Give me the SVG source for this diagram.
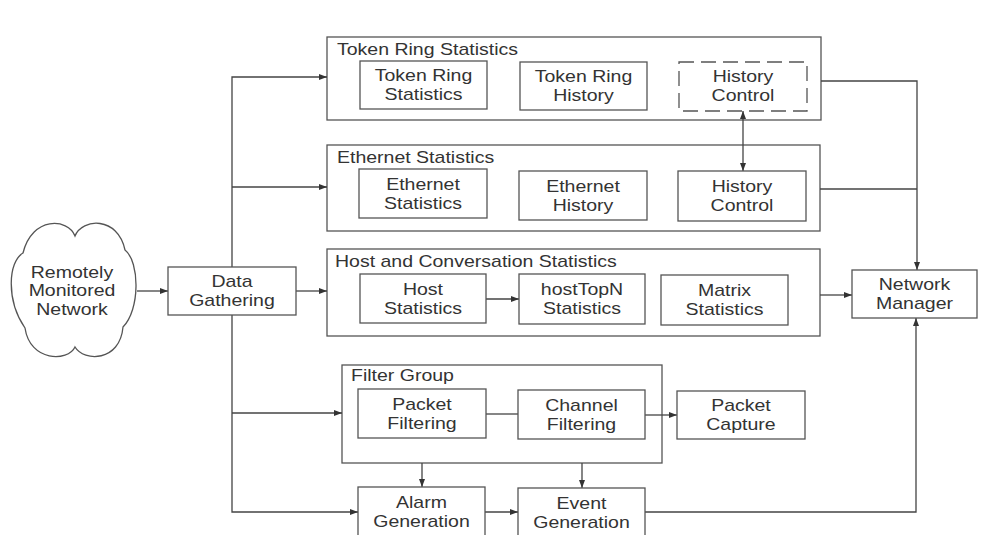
<svg xmlns="http://www.w3.org/2000/svg" width="983" height="535" viewBox="0 0 983 535">
<style>
.box{fill:#fff;stroke:#555;stroke-width:1.3}
.dash{stroke-dasharray:15 7}
.conn{fill:none;stroke:#444;stroke-width:1.3}
text{font-family:"Liberation Sans",Arial,Helvetica,sans-serif;font-size:16px;fill:#333}
.c{text-anchor:middle;transform-box:fill-box;transform-origin:center;transform:scaleX(1.22)}
.l{transform-box:fill-box;transform-origin:left center;transform:scaleX(1.22)}
</style>
<defs>
<marker id="ah" viewBox="0 0 8 6" refX="8" refY="3" markerWidth="8" markerHeight="6" markerUnits="userSpaceOnUse" orient="auto-start-reverse">
<path d="M0,0 L8,3 L0,6 z" fill="#333"/>
</marker>
</defs>
<rect width="983" height="535" fill="#fff"/>

<g id="g-token">
<rect class="box" x="327" y="37" width="494" height="83"/>
<text class="l" x="337" y="55">Token Ring Statistics</text>
</g>
<g id="g-ether">
<rect class="box" x="327" y="145" width="493" height="86"/>
<text class="l" x="337" y="163">Ethernet Statistics</text>
</g>
<g id="g-host">
<rect class="box" x="327" y="249" width="493" height="87"/>
<text class="l" x="335" y="267">Host and Conversation Statistics</text>
</g>
<g id="g-filter">
<rect class="box" x="342" y="365" width="320" height="98"/>
<text class="l" x="351" y="381">Filter Group</text>
</g>

<g id="connectors">
<path class="conn" d="M137,291 H168" marker-end="url(#ah)"/>
<path class="conn" d="M296,291 H327" marker-end="url(#ah)"/>
<path class="conn" d="M232,267 V77 H327" marker-end="url(#ah)"/>
<path class="conn" d="M232,187 H327" marker-end="url(#ah)"/>
<path class="conn" d="M232,315 V512 H358" marker-end="url(#ah)"/>
<path class="conn" d="M232,413 H342" marker-end="url(#ah)"/>
<path class="conn" d="M821,81 H917 V270" marker-end="url(#ah)"/>
<path class="conn" d="M820,189 H917"/>
<path class="conn" d="M820,295 H852" marker-end="url(#ah)"/>
<path class="conn" d="M645,512 H916 V318" marker-end="url(#ah)"/>
<path class="conn" d="M743,111 V171" marker-start="url(#ah)" marker-end="url(#ah)"/>
<path class="conn" d="M486,299 H519" marker-end="url(#ah)"/>
<path class="conn" d="M486,414 H518"/>
<path class="conn" d="M645,415 H677" marker-end="url(#ah)"/>
<path class="conn" d="M422,463 V487" marker-end="url(#ah)"/>
<path class="conn" d="M582,463 V488" marker-end="url(#ah)"/>
<path class="conn" d="M485,512 H518" marker-end="url(#ah)"/>
</g>

<g id="n-cloud">
<path class="box" d="M75,236 C68,218 32,216 23,253 C8,262 6,300 25,328 C30,362 68,362 75,347 C84,362 120,362 123,327 C140,310 140,262 125,250 C118,216 82,218 75,236 Z"/>
<text class="c" x="72" y="278">Remotely</text>
<text class="c" x="72" y="296.5">Monitored</text>
<text class="c" x="72" y="315">Network</text>
</g>
<g id="n-data">
<rect class="box" x="168" y="267" width="128" height="48"/>
<text class="c" x="232" y="287.2">Data</text>
<text class="c" x="232" y="306.2">Gathering</text>
</g>
<g id="n-trs">
<rect class="box" x="360" y="61" width="127" height="48"/>
<text class="c" x="423.5" y="81">Token Ring</text>
<text class="c" x="423.5" y="100">Statistics</text>
</g>
<g id="n-trh">
<rect class="box" x="520" y="62" width="127" height="48"/>
<text class="c" x="583.5" y="82">Token Ring</text>
<text class="c" x="583.5" y="101">History</text>
</g>
<g id="n-hc1">
<rect class="box dash" x="679" y="62" width="128" height="49"/>
<text class="c" x="743" y="82.5">History</text>
<text class="c" x="743" y="101.5">Control</text>
</g>
<g id="n-es">
<rect class="box" x="359" y="169" width="128" height="49"/>
<text class="c" x="423" y="189.7">Ethernet</text>
<text class="c" x="423" y="208.7">Statistics</text>
</g>
<g id="n-eh">
<rect class="box" x="519" y="171" width="128" height="49"/>
<text class="c" x="583" y="191.7">Ethernet</text>
<text class="c" x="583" y="210.7">History</text>
</g>
<g id="n-hc2">
<rect class="box" x="678" y="171" width="128" height="50"/>
<text class="c" x="742" y="192.2">History</text>
<text class="c" x="742" y="211.2">Control</text>
</g>
<g id="n-host">
<rect class="box" x="360" y="274" width="126" height="49"/>
<text class="c" x="423" y="294.7">Host</text>
<text class="c" x="423" y="313.7">Statistics</text>
</g>
<g id="n-topn">
<rect class="box" x="519" y="274" width="126" height="50"/>
<text class="c" x="582" y="295.2">hostTopN</text>
<text class="c" x="582" y="314.2">Statistics</text>
</g>
<g id="n-matrix">
<rect class="box" x="661" y="275" width="127" height="50"/>
<text class="c" x="724.5" y="296.2">Matrix</text>
<text class="c" x="724.5" y="315.2">Statistics</text>
</g>
<g id="n-pf">
<rect class="box" x="358" y="389" width="128" height="49"/>
<text class="c" x="422" y="409.7">Packet</text>
<text class="c" x="422" y="428.7">Filtering</text>
</g>
<g id="n-cf">
<rect class="box" x="518" y="390" width="127" height="49"/>
<text class="c" x="581.5" y="410.7">Channel</text>
<text class="c" x="581.5" y="429.7">Filtering</text>
</g>
<g id="n-pc">
<rect class="box" x="677" y="391" width="128" height="48"/>
<text class="c" x="741" y="411.2">Packet</text>
<text class="c" x="741" y="430.2">Capture</text>
</g>
<g id="n-alarm">
<rect class="box" x="358" y="487" width="127" height="49"/>
<text class="c" x="421.5" y="507.7">Alarm</text>
<text class="c" x="421.5" y="526.7">Generation</text>
</g>
<g id="n-event">
<rect class="box" x="518" y="488" width="127" height="49"/>
<text class="c" x="581.5" y="508.7">Event</text>
<text class="c" x="581.5" y="527.7">Generation</text>
</g>
<g id="n-nm">
<rect class="box" x="852" y="270" width="125" height="48"/>
<text class="c" x="914.5" y="290.2">Network</text>
<text class="c" x="914.5" y="309.2">Manager</text>
</g>
</svg>
